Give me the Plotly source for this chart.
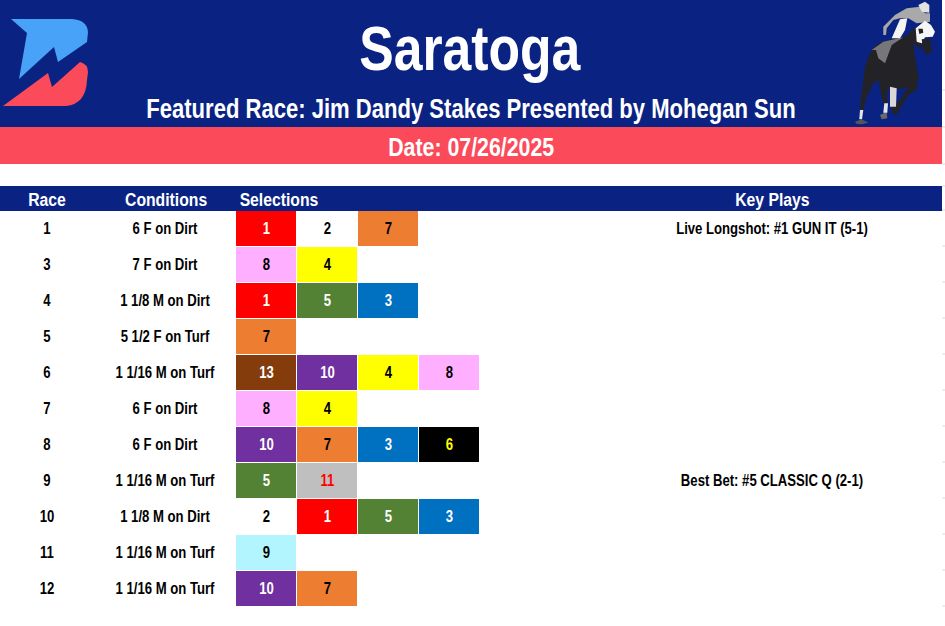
#!/bin/python3
# Saratoga race card: selections table drawn with a heatmap, header as shapes

import plotly.graph_objects as go

# Data
title = 'Saratoga'
featured = 'Featured Race: Jim Dandy Stakes Presented by Mohegan Sun'
date_label = 'Date: 07/26/2025'
headers = ['Race', 'Conditions', 'Selections', 'Key Plays']

races = [1, 3, 4, 5, 6, 7, 8, 9, 10, 11, 12]
conditions = ['6 F on Dirt', '7 F on Dirt', '1 1/8 M on Dirt', '5 1/2 F on Turf',
  '1 1/16 M on Turf', '6 F on Dirt', '6 F on Dirt', '1 1/16 M on Turf',
  '1 1/8 M on Dirt', '1 1/16 M on Turf', '1 1/16 M on Turf']
selections = [[1, 2, 7], [8, 4], [1, 5, 3], [7], [13, 10, 4, 8], [8, 4],
  [10, 7, 3, 6], [5, 11], [2, 1, 5, 3], [9], [10, 7]]
key_plays = ['Live Longshot: #1 GUN IT (5-1)', '', '', '', '', '', '',
  'Best Bet: #5 CLASSIC Q (2-1)', '', '', '']

# Saddle cloth colours by program number (12 does not run here)
cloth_numbers = [1, 2, 3, 4, 5, 6, 7, 8, 9, 10, 11, 12, 13]
cloth_colors = ['#FF0000', '#FFFFFF', '#0070C0', '#FFFF00', '#548235', '#000000',
  '#ED7D31', '#FFAFFF', '#B3F5FF', '#7030A0', '#BFBFBF', '#FFFFFF', '#843C0C']
number_colors = ['white', 'black', 'white', 'black', 'white', '#FFFF00',
  'black', 'black', 'black', 'white', '#FF0000', 'black', 'white']

NAVY = '#0A2382'
CORAL = '#FB4B5A'
W, H = 945, 626
FONT = 'Liberation Sans, Arial, sans-serif'

n_rows = len(races)
n_cols = max(len(s) for s in selections)

# Step colorscale so each program number gets its own colour
n = len(cloth_numbers)
colorscale = []
for i, c in enumerate(cloth_colors):
  colorscale.append([i / n, c])
  colorscale.append([(i + 1) / n, c])

z = [s + [None] * (n_cols - len(s)) for s in selections]

fig = go.Figure()

# Selection cells
fig.add_trace(go.Heatmap(
  z = z,
  xaxis = 'x2',
  yaxis = 'y2',
  colorscale = colorscale,
  zmin = 0.5,
  zmax = 13.5,
  showscale = False,
  xgap = 1,
  ygap = 1,
  hoverinfo = 'skip'
))

# Numbers inside the cells (y3 is the row scale nudged down a little for the text)
cell_x, cell_y, cell_text, cell_color = [], [], [], []
for r, row in enumerate(selections):
  for c, num in enumerate(row):
    cell_x.append(c)
    cell_y.append(r)
    cell_text.append(str(num))
    cell_color.append(number_colors[cloth_numbers.index(num)])
fig.add_trace(go.Scatter(
  x = cell_x,
  y = cell_y,
  xaxis = 'x2',
  yaxis = 'y3',
  mode = 'text',
  text = cell_text,
  textfont = dict(family = FONT, size = 16, color = cell_color, weight = 'bold'),
  hoverinfo = 'skip'
))

# Race, conditions and key play columns share the row scale of the numbers
row_ids = list(range(n_rows))
for col_x, col_text in [(47, races), (165, conditions), (772, key_plays)]:
  fig.add_trace(go.Scatter(
    x = [col_x] * n_rows,
    y = row_ids,
    xaxis = 'x',
    yaxis = 'y3',
    mode = 'text',
    text = [str(t) for t in col_text],
    textfont = dict(family = FONT, size = 16, color = 'black', weight = 'bold'),
    hoverinfo = 'skip'
  ))

def poly(points, color):
  path = 'M ' + ' L '.join('{} {}'.format(px, py) for px, py in points) + ' Z'
  return dict(type = 'path', path = path, xref = 'x', yref = 'y', fillcolor = color,
    line = dict(width = 0), layer = 'above')

def band(y0, y1, color):
  return dict(type = 'rect', x0 = 0, x1 = 942, y0 = y0, y1 = y1, xref = 'x', yref = 'y',
    fillcolor = color, line = dict(width = 0), layer = 'below')

# Horse outline was traced on a 3x crop whose corner is at (850, 0)
def horse(points, color):
  return poly([(round(850 + hx / 3, 1), round(hy / 3, 1)) for hx, hy in points], color)

shapes = [band(0, 127, NAVY), band(127, 164, CORAL), band(186, 211, NAVY)]

# Logo
shapes.append(dict(type = 'path', xref = 'x', yref = 'y', fillcolor = '#48A2F8',
  line = dict(width = 0), layer = 'above',
  path = 'M 11 19 L 72 19 Q 87 20 88 32 L 87 42 L 58 62 L 54 47 L 19 79 L 27 33 Z'))
shapes.append(dict(type = 'path', xref = 'x', yref = 'y', fillcolor = CORAL,
  line = dict(width = 0), layer = 'above',
  path = 'M 3 106 L 48 73 L 52 87 L 80 62 Q 88 64 88 72 L 87 80 Q 86 104 66 106 Z'))

# Horse and jockey, rough cut-out
DARK = '#232327'
shapes.append(horse([(65, 150), (85, 130), (125, 118), (165, 110), (190, 88), (210, 75), (215, 150),
  (190, 130), (195, 170), (207, 240), (190, 262), (140, 268), (125, 265), (112, 270), (112, 300),
  (108, 320), (100, 310), (95, 290), (85, 240), (70, 250), (50, 290), (40, 330), (30, 335),
  (32, 300), (40, 240), (45, 200), (55, 170)], DARK))
shapes.append(horse([(180, 250), (205, 255), (200, 270), (175, 285), (160, 310), (150, 325), (140, 345),
  (128, 340), (125, 322), (150, 300), (165, 275), (175, 265)], DARK))
shapes.append(horse([(120, 260), (140, 265), (138, 320), (120, 320)], '#D8D8D8'))
shapes.append(horse([(90, 345), (110, 335), (112, 355), (95, 358)], '#6A6A6E'))
shapes.append(horse([(103, 310), (114, 310), (112, 338), (100, 338)], '#E4E4E4'))
shapes.append(horse([(30, 330), (40, 330), (36, 358), (28, 358)], '#E4E4E4'))
shapes.append(horse([(15, 365), (35, 358), (55, 368), (35, 373), (20, 372)], '#55555A'))
shapes.append(horse([(65, 150), (100, 125), (160, 112), (125, 135), (105, 190), (85, 175), (78, 150)], '#77777B'))
shapes.append(horse([(100, 80), (135, 45), (170, 25), (210, 20), (225, 40), (240, 40), (240, 65),
  (200, 70), (175, 55), (150, 55), (130, 60), (110, 85), (108, 105), (100, 105)], '#A9A9AC'))
shapes.append(horse([(125, 115), (150, 58), (172, 55), (165, 90), (150, 115)], '#F4F4F4'))
shapes.append(horse([(205, 15), (225, 5), (238, 15), (238, 38), (215, 35)], '#E2E2E2'))
shapes.append(horse([(197, 85), (225, 62), (243, 75), (255, 95), (248, 110), (225, 112), (215, 130), (200, 125)], '#F6F6F6'))
shapes.append(horse([(205, 86), (218, 86), (220, 98), (208, 102)], DARK))
shapes.append(horse([(215, 118), (240, 115), (246, 155), (232, 165), (220, 150)], DARK))

# Faint sheet gridline stubs on the right edge
stubs = [90, 127, 164, 186] + [210 + 36 * i for i in range(n_rows + 1)]
for sy in stubs:
  shapes.append(dict(type = 'line', x0 = 942, x1 = 945, y0 = sy, y1 = sy, xref = 'x', yref = 'y',
    line = dict(color = '#D9D9D9', width = 1)))

def label(text, x, y, size, color = 'white', xanchor = 'center'):
  return dict(text = text, x = x, y = y, xref = 'x', yref = 'y', showarrow = False,
    xanchor = xanchor, yanchor = 'middle',
    font = dict(family = FONT, size = size, color = color, weight = 'bold'))

annotations = [
  label(title, 470.5, 48, 63),
  label(featured, 470.5, 109, 26.9),
  label(date_label, 470.5, 147, 26),
  label(headers[0], 47, 199, 19.2),
  label(headers[1], 165.5, 199, 19.2),
  label(headers[2], 278.5, 199, 19.2),
  label(headers[3], 772, 199, 19.2),
]

hidden = dict(visible = False, showgrid = False, zeroline = False, fixedrange = True)

fig.update_layout(
  width = W,
  height = H,
  margin = dict(l = 0, r = 0, t = 0, b = 0),
  paper_bgcolor = 'white',
  plot_bgcolor = 'rgba(0,0,0,0)',
  showlegend = False,
  shapes = shapes,
  annotations = annotations,
  xaxis = dict(hidden, range = [0, W], domain = [0, 1]),
  yaxis = dict(hidden, range = [H, 0], domain = [0, 1]),
  xaxis2 = dict(hidden, range = [-0.5, n_cols - 0.5], domain = [236 / W, 480 / W], anchor = 'y2'),
  yaxis2 = dict(hidden, range = [n_rows - 0.5, -0.5], domain = [1 - 607 / H, 1 - 211 / H], anchor = 'x2'),
  yaxis3 = dict(hidden, range = [n_rows - 0.5, -0.5], domain = [1 - 608 / H, 1 - 212 / H], anchor = 'x2'),
)

# No narrow font is installed: squeeze the glyphs to Arial Narrow proportions, drop the body margin
post_js = """
document.body.style.margin = '0';
function squeeze() {
  document.querySelectorAll('svg text').forEach(function(t) {
    if (t.dataset.squeezed || !t.textContent) return;
    t.setAttribute('lengthAdjust', 'spacingAndGlyphs');
    t.setAttribute('textLength', t.getComputedTextLength() * 0.82);
    t.dataset.squeezed = '1';
  });
}
squeeze();
setTimeout(squeeze, 50);
"""

fig.write_html("out.html", config = dict(displayModeBar = False), post_script = post_js)
